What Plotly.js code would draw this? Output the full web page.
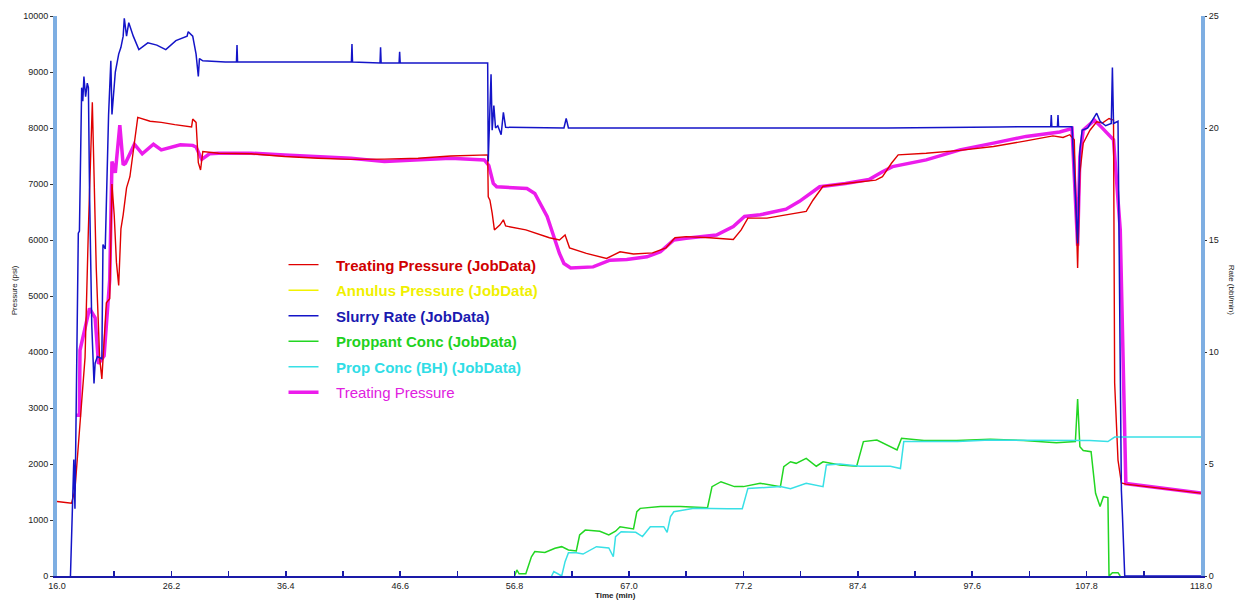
<!DOCTYPE html>
<html>
<head>
<meta charset="utf-8">
<script src="https://cdn.plot.ly/plotly-3.0.1.min.js"></script>
<style>html,body{margin:0;padding:0;background:#fff;}#chart{width:1239px;height:602px;}</style>
</head>
<body>
<div id="chart"></div>
<script>
// ---------- axis tick labels ----------
const timeTickVals = [16.0, 26.2, 36.4, 46.6, 56.8, 67.0, 77.2, 87.4, 97.6, 107.8, 118.0];
const timeTickText = ["16.0", "26.2", "36.4", "46.6", "56.8", "67.0", "77.2", "87.4", "97.6", "107.8", "118.0"];
const pressureTickVals = [0, 1000, 2000, 3000, 4000, 5000, 6000, 7000, 8000, 9000, 10000];
const pressureTickText = ["0", "1000", "2000", "3000", "4000", "5000", "6000", "7000", "8000", "9000", "10000"];
const rateTickVals = [0, 5, 10, 15, 20, 25];

// ---------- series names ----------
const seriesNames = ["Treating Pressure (JobData)", "Annulus Pressure (JobData)", "Slurry Rate (JobData)",
  "Proppant Conc (JobData)", "Prop Conc (BH) (JobData)", "Treating Pressure"];

// ---------- Treating Pressure (JobData), psi ----------
const tpTime = [16.0, 17.3, 17.6, 17.9, 18.2, 18.5, 18.8, 19.15, 19.5, 19.8,
  20.0, 20.4, 20.7, 20.9, 21.1, 21.3, 21.5, 21.7, 21.9, 22.2,
  22.5, 22.8, 23.2, 24.3, 25.3, 26.5, 27.5, 28.0, 28.1, 28.4,
  28.6, 28.8, 29.0, 29.4, 30.4, 33.3, 36.3, 39.3, 42.2, 45.2,
  48.2, 51.1, 54.4, 54.45, 54.6, 54.8, 55.0, 55.5, 55.8, 56.0,
  57.8, 59.9, 60.8, 61.3, 61.7, 63.2, 65.0, 66.2, 67.4, 69.1,
  70.3, 71.1, 72.1, 74.2, 76.3, 77.0, 77.6, 79.3, 81.0, 82.8,
  83.4, 84.3, 86.3, 89.0, 89.6, 90.4, 91.0, 93.5, 96.5, 99.5,
  102.4, 104.8, 105.7, 106.3, 106.7, 107.0, 107.2, 107.5, 108.1, 108.7,
  109.2, 109.8, 110.2, 110.3, 110.6, 110.9, 111.3, 118.0];
const tpValue = [1330, 1300, 1540, 2350, 3100, 3900, 6200, 8460, 5500, 3900,
  3520, 4880, 4950, 7000, 6450, 5600, 5190, 6200, 6450, 6930,
  7130, 7600, 8190, 8120, 8100, 8060, 8030, 8020, 8160, 8100,
  7380, 7250, 7580, 7570, 7550, 7540, 7490, 7460, 7440, 7445,
  7460, 7500, 7520, 6770, 6710, 6480, 6180, 6270, 6360, 6250,
  6180, 6040, 6000, 6090, 5860, 5760, 5670, 5790, 5750, 5770,
  5860, 6040, 6060, 6040, 6010, 6180, 6390, 6390, 6450, 6510,
  6710, 6960, 7010, 7070, 7130, 7370, 7520, 7550, 7600, 7670,
  7770, 7860, 7830, 7880, 7790, 5500, 7200, 7730, 7960, 8110,
  8090, 8170, 8140, 3450, 2070, 1660, 1640, 1480];

// ---------- Treating Pressure (thick magenta), psi ----------
const tp2Time = [17.7, 18.0, 18.05, 18.9, 19.4, 19.7, 20.2, 20.7, 20.9, 21.2,
  21.6, 21.9, 22.1, 22.9, 23.6, 24.6, 25.3, 26.2, 27.0, 28.1,
  28.4, 28.9, 29.6, 30.4, 33.3, 36.3, 39.3, 42.2, 45.2, 48.2,
  51.1, 54.1, 54.5, 54.9, 55.2, 57.9, 58.6, 59.7, 60.4, 60.8,
  61.2, 61.8, 63.8, 65.3, 66.8, 68.6, 69.8, 71.0, 72.1, 74.8,
  76.3, 77.3, 78.7, 81.0, 82.2, 84.0, 86.3, 88.4, 89.6, 90.5,
  93.5, 96.5, 99.5, 102.4, 105.4, 106.5, 107.0, 107.2, 107.5, 108.5,
  109.1, 110.2, 110.8, 111.3, 118.0];
const tp2Value = [2870, 2870, 4030, 4780, 4610, 3790, 3930, 5290, 7400, 7200,
  8050, 7340, 7370, 7710, 7540, 7710, 7610, 7650, 7700, 7690,
  7660, 7440, 7540, 7550, 7550, 7520, 7490, 7460, 7400, 7430,
  7460, 7430, 7330, 7010, 6950, 6920, 6830, 6420, 6000, 5760,
  5580, 5500, 5520, 5640, 5650, 5700, 5790, 6000, 6030, 6090,
  6240, 6420, 6450, 6550, 6690, 6950, 7010, 7080, 7220, 7310,
  7430, 7610, 7730, 7850, 7930, 7990, 5900, 7490, 7960, 8140,
  8020, 7790, 6180, 1650, 1480];

// ---------- Annulus Pressure (JobData): no visible data in the chart ----------
const annTime = [null];
const annValue = [null];

// ---------- Slurry Rate (JobData), bbl/min ----------
const srTime = [17.2, 17.4, 17.5, 17.6, 17.8, 17.9, 18.0, 18.1, 18.2, 18.3,
  18.4, 18.55, 18.7, 18.8, 18.9, 19.1, 19.3, 19.4, 19.6, 20.0,
  20.1, 20.3, 20.6, 20.8, 20.9, 21.2, 21.5, 21.7, 21.9, 22.0,
  22.2, 22.4, 22.6, 22.8, 23.3, 24.1, 24.9, 25.7, 26.6, 27.6,
  27.7, 28.1, 28.4, 28.6, 28.7, 29.0, 31.0, 32.0, 32.05, 32.1,
  36.0, 42.25, 42.3, 42.35, 44.8, 44.85, 44.9, 46.5, 46.55, 46.6,
  50.0, 54.4, 54.45, 54.7, 54.8, 54.95, 55.1, 55.3, 55.6, 55.8,
  56.0, 61.2, 61.4, 61.6, 70.0, 80.0, 90.0, 100.0, 104.6, 104.65,
  104.7, 105.2, 105.25, 105.3, 106.5, 107.0, 107.2, 107.4, 107.9, 108.7,
  109.0, 109.5, 110.0, 110.1, 110.2, 110.6, 110.9, 111.0, 111.2, 118.0];
const srValue = [0, 3.0, 5.2, 3.0, 11.2, 15.3, 15.4, 20.1, 21.8, 21.2,
  22.3, 21.4, 22.0, 21.8, 17.2, 11.2, 8.6, 9.5, 9.8, 9.7,
  14.8, 14.6, 20.6, 23.0, 20.6, 22.5, 23.3, 23.6, 24.1, 24.9,
  24.1, 24.7, 24.4, 24.1, 23.5, 23.8, 23.7, 23.5, 23.9, 24.1,
  24.3, 24.1, 23.3, 22.3, 23.1, 23.0, 22.95, 22.95, 23.7, 22.95,
  22.95, 22.95, 23.75, 22.95, 22.9, 23.6, 22.9, 22.9, 23.4, 22.9,
  22.9, 22.9, 18.5, 22.4, 19.9, 21.0, 20.0, 20.1, 19.7, 20.7,
  20.03, 20.0, 20.43, 20.0, 20.0, 20.0, 20.0, 20.05, 20.06, 20.58,
  20.06, 20.06, 20.58, 20.06, 20.06, 14.85, 19.0, 19.9, 20.0, 20.66,
  20.3, 20.1, 20.2, 22.7, 20.2, 20.3, 3.84, 2.65, 0, 0];

// ---------- Proppant Conc (JobData) ----------
const pcTime = [56.8, 57.0, 57.2, 57.8, 58.3, 58.6, 59.5, 60.4, 61.0, 61.6,
  62.3, 62.6, 63.1, 64.4, 65.2, 65.8, 66.2, 67.4, 67.7, 68.0,
  69.8, 71.6, 74.0, 74.4, 75.2, 76.4, 77.2, 78.7, 80.5, 80.8,
  81.4, 81.9, 82.8, 83.7, 84.3, 85.8, 87.3, 87.9, 89.1, 90.0,
  90.9, 91.3, 93.3, 96.2, 99.2, 102.2, 105.1, 106.8, 107.0, 107.2,
  107.5, 108.2, 108.6, 109.0, 109.3, 109.7, 109.8, 110.1, 110.6, 110.8];
const pcValue = [0, 0.27, 0.1, 0.1, 0.86, 1.09, 1.05, 1.24, 1.31, 1.16,
  1.12, 1.83, 2.05, 2.0, 1.83, 2.0, 2.2, 2.1, 2.87, 3.02,
  3.1, 3.1, 3.05, 3.99, 4.21, 3.99, 3.99, 4.14, 3.99, 4.88,
  5.1, 5.03, 5.25, 4.9, 5.1, 4.96, 4.9, 6.0, 6.07, 5.85,
  5.63, 6.15, 6.05, 6.05, 6.1, 6.05, 5.95, 6.0, 7.9, 5.77,
  5.6, 5.55, 3.69, 3.1, 3.54, 3.5, 0, 0.15, 0.15, 0];

// ---------- Prop Conc (BH) (JobData) ----------
const bhTime = [60.1, 60.3, 61.0, 61.3, 61.6, 62.3, 62.9, 64.1, 65.2, 65.6,
  65.8, 66.3, 67.6, 68.2, 68.9, 70.1, 70.4, 70.7, 71.0, 72.8,
  75.8, 77.1, 77.6, 78.7, 80.5, 81.4, 82.8, 84.3, 84.6, 85.8,
  87.6, 90.3, 91.2, 91.5, 93.3, 96.3, 99.2, 102.2, 105.1, 108.1,
  109.7, 110.3, 118.0];
const bhValue = [0, 0.2, 0, 0.64, 1.04, 1.04, 0.98, 1.31, 1.25, 0.86,
  1.76, 1.98, 1.95, 1.76, 2.2, 2.2, 1.95, 2.65, 2.87, 3.02,
  3.0, 3.0, 3.91, 3.95, 3.99, 3.9, 4.14, 3.99, 4.96, 5.0,
  4.9, 4.9, 4.8, 6.0, 6.0, 6.0, 6.07, 6.07, 6.07, 6.05,
  6.0, 6.2, 6.2];

// ---------- styling ----------
const colors = {red: "#e00000", yellow: "#f2f200", blue: "#1414c8", green: "#22d622", cyan: "#38e0e6", magenta: "#ec1cec"};
const textColors = {red: "#d00000", yellow: "#f0f000", blue: "#1a1ab0", green: "#1ed21e", cyan: "#30dde6", magenta: "#e020e0"};
const pad = "\u00A0\u00A0\u00A0";
function lbl(name, col, bold) {
  const s = '<span style="color:' + col + '">' + name + '</span>';
  return pad + (bold ? '<b>' + s + '</b>' : s);
}

const traces = [
  {x: tp2Time, y: tp2Value, yaxis: 'y', name: lbl(seriesNames[5], textColors.magenta, false), legendrank: 6, legendgroup: 'g6',
   mode: 'lines', line: {color: colors.magenta, width: 3.5}},
  {x: pcTime, y: pcValue, yaxis: 'y2', name: lbl(seriesNames[3], textColors.green, true), legendrank: 4, legendgroup: 'g4',
   mode: 'lines', line: {color: colors.green, width: 1.5}},
  {x: bhTime, y: bhValue, yaxis: 'y2', name: lbl(seriesNames[4], textColors.cyan, true), legendrank: 5, legendgroup: 'g5',
   mode: 'lines', line: {color: colors.cyan, width: 1.5}},
  {x: annTime, y: annValue, yaxis: 'y', name: lbl(seriesNames[1], textColors.yellow, true), legendrank: 2, legendgroup: 'g2',
   mode: 'lines', line: {color: colors.yellow, width: 1.5}, showlegend: true},
  {x: tpTime, y: tpValue, yaxis: 'y', name: lbl(seriesNames[0], textColors.red, true), legendrank: 1, legendgroup: 'g1',
   mode: 'lines', line: {color: colors.red, width: 1.4}},
  {x: srTime, y: srValue, yaxis: 'y2', name: lbl(seriesNames[2], textColors.blue, true), legendrank: 3, legendgroup: 'g3',
   mode: 'lines', line: {color: colors.blue, width: 1.5}}
];

// major ticks carry labels, the half-way ticks carry none
const axisTickVals = [];
const axisTickText = [];
timeTickVals.forEach((v, i) => {
  axisTickVals.push(v); axisTickText.push(timeTickText[i]);
  if (i < timeTickVals.length - 1) { axisTickVals.push((v + timeTickVals[i + 1]) / 2); axisTickText.push(''); }
});
const tickFont = {family: 'Liberation Sans, Arial, sans-serif', size: 9, color: '#222'};
const titleFont = {family: 'Liberation Sans, Arial, sans-serif', size: 8, color: '#222'};

const layout = {
  width: 1239, height: 602,
  margin: {l: 57, r: 38, t: 16, b: 26},
  paper_bgcolor: '#fff', plot_bgcolor: '#fff',
  showlegend: true,
  legend: {x: 0.198, y: 0.585, xanchor: 'left', yanchor: 'top', bgcolor: 'rgba(0,0,0,0)',
           font: {family: 'Liberation Sans, Arial, sans-serif', size: 15}, tracegroupgap: 3, traceorder: 'grouped'},
  xaxis: {range: [16, 118], tickmode: 'array', tickvals: axisTickVals, ticktext: axisTickText,
          showgrid: false, zeroline: false, showline: true, linecolor: '#1a1aa8', linewidth: 2,
          ticks: 'inside', ticklen: 5, tickwidth: 1.5, tickcolor: '#1a1aa8', tickfont: tickFont},
  yaxis: {range: [0, 10000], tickmode: 'array', tickvals: pressureTickVals, ticktext: pressureTickText, showgrid: false, zeroline: false,
          showline: true, linecolor: '#7eaee2', linewidth: 4, ticks: 'outside', ticklen: 3, tickcolor: '#333',
          tickfont: tickFont},
  yaxis2: {range: [0, 25], tickmode: 'array', tickvals: rateTickVals, overlaying: 'y', side: 'right',
           showgrid: false, zeroline: false, showline: true, linecolor: '#7eaee2', linewidth: 4,
           ticks: 'outside', ticklen: 2, tickcolor: '#333', tickfont: tickFont},
  annotations: [
    {text: 'Pressure (psi)', xref: 'paper', yref: 'paper', x: -0.0425, y: 0.51, textangle: -90, showarrow: false, font: titleFont},
    {text: 'Rate (bbl/min)', xref: 'paper', yref: 'paper', x: 1.0325, y: 0.51, textangle: 90, showarrow: false, font: titleFont},
    {text: '<b>Time (min)</b>', xref: 'paper', yref: 'paper', x: 0.4878, y: -0.0464, yanchor: 'bottom', showarrow: false, font: titleFont}
  ]
};

Plotly.newPlot('chart', traces, layout, {displayModeBar: false, staticPlot: true});
</script>
</body>
</html>
